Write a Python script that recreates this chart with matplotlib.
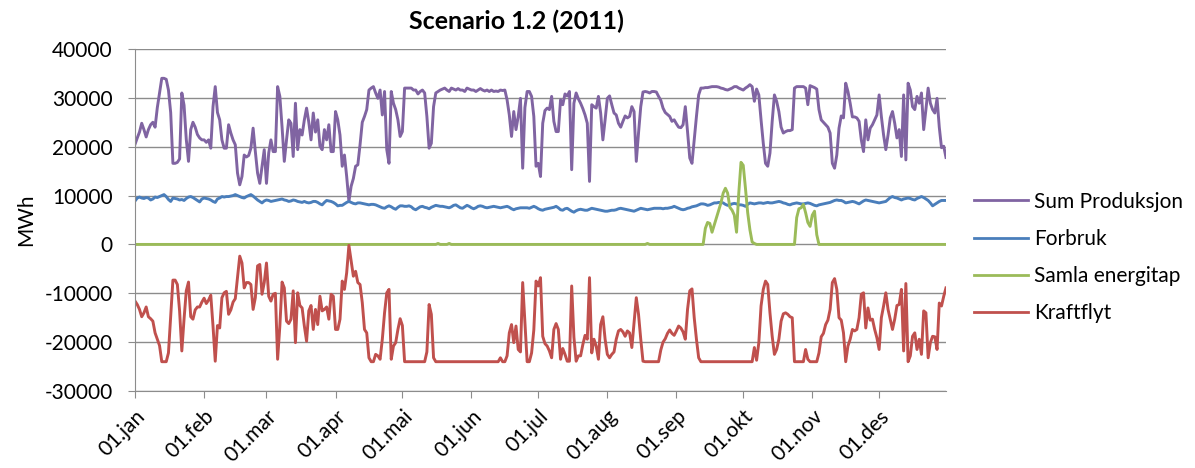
import numpy as np
import matplotlib.pyplot as plt
from matplotlib.lines import Line2D

plt.rcParams['font.family'] = ['Lato', 'DejaVu Sans']
plt.rcParams['axes.unicode_minus'] = False

# Dagsverdiar 2011 (MWh)
sum_produksjon = [
    20500, 21800, 23000, 24800, 23500, 22000, 23500, 24500, 25000, 24000,
    28000, 31000, 34000, 34000, 33800, 31600, 27000, 16600, 16600, 16800,
    17500, 31000, 28500, 21500, 17000, 23500, 25000, 24000, 22500, 21800,
    21400, 21400, 20900, 21400, 19700, 28200, 32300, 27000, 25500, 21400,
    19700, 19700, 24500, 22800, 21400, 20400, 14600, 12200, 13900, 18300,
    17900, 18200, 19700, 23800, 19000, 14600, 12500, 16000, 19400, 12500,
    18700, 21400, 19000, 19000, 32300, 30300, 24000, 17000, 21400, 25500,
    24800, 18000, 28900, 19400, 23500, 22400, 25500, 27900, 25000, 21400,
    26900, 23000, 25500, 20100, 19400, 23500, 21400, 24500, 19000, 19000,
    27200, 25500, 22400, 16000, 18300, 13900, 8800, 11900, 13500, 16000,
    16300, 20400, 25000, 26200, 27600, 31600, 32000, 32300, 31000, 29900,
    31600, 26500, 31300, 19400, 16600, 31300, 28900, 27600, 25500, 22100,
    23100, 32000, 32000, 32000, 32000, 31600, 31600, 30800, 31300, 31600,
    31000, 26200, 19700, 20700, 28200, 31000, 31300, 31600, 31800, 32000,
    31600, 31300, 32000, 31800, 31600, 31900, 31600, 31600, 31300, 32000,
    31800, 31600, 31600, 31300, 31600, 31900, 31600, 31400, 31600, 31300,
    31600, 31300, 31400, 31300, 31600, 31500, 31600, 29600, 26500, 22100,
    27200, 23500, 26200, 29900, 15600, 28000, 31300, 31300, 30300, 26200,
    16000, 16600, 13900, 24800, 27400, 27900, 27600, 30300, 25200, 23100,
    23100, 29600, 28600, 30800, 30400, 31300, 15300, 28900, 31000, 29800,
    28900, 27800, 26500, 24800, 12900, 28600, 28200, 27900, 30300, 26900,
    21400, 25500, 29900, 30400, 28600, 26900, 26500, 24800, 24000, 25200,
    26300, 25900, 26200, 28200, 27200, 17000, 22800, 28200, 31200, 31300,
    31200, 31000, 31300, 31300, 31200, 30300, 29500, 27900, 27000, 26600,
    26200, 25200, 25500, 24700, 24000, 23900, 24500, 28200, 23100, 17700,
    16600, 21400, 26200, 30600, 32000, 32000, 32100, 32100, 32200, 32300,
    32300, 32300, 32200, 32000, 31900, 31700, 31600, 31800, 32000, 32300,
    32300, 32000, 31800, 31600, 32000, 32300, 32700, 32300, 29300, 31800,
    30600, 25500, 20700, 16600, 16000, 18700, 25200, 30600, 29300, 27200,
    24000, 22800, 23100, 23300, 23300, 23500, 32000, 32300, 32300, 32300,
    32300, 32000, 28600, 32500, 32300, 32100, 31800, 27600, 25500, 25000,
    24500, 24000, 22800, 16600, 15600, 18300, 23800, 26300, 25900, 33000,
    31300, 28900, 26100, 26100, 25900, 25200, 21400, 19000, 25500, 21400,
    23800, 24500, 25500, 26500, 30600, 26200, 22400, 19400, 22400, 25900,
    27200, 24800, 21800, 23500, 18000, 30600, 17300, 33000, 31600, 28200,
    27600, 30300, 28900, 31000, 23500, 27600, 32000, 28900, 27600, 26900,
    29900, 24000, 19800, 20100, 17800,
]

forbruk = [
    8900, 9500, 9700, 9500, 9400, 9600, 9500, 9100, 9300, 9700,
    9600, 9800, 10000, 10200, 9800, 9200, 8800, 9500, 9400, 9300,
    9100, 9200, 9000, 9400, 9700, 9800, 9600, 9300, 9000, 8700,
    9300, 9500, 9400, 9300, 9100, 8800, 8600, 9300, 9500, 9800,
    9700, 9800, 9800, 9900, 10000, 10200, 10000, 9800, 9600, 9500,
    9800, 10000, 10200, 9900, 9500, 9100, 8800, 8500, 8900, 9100,
    9000, 8800, 8900, 9000, 9100, 9200, 9300, 9100, 9000, 8800,
    8900, 9100, 9000, 8800, 8700, 8600, 8800, 8600, 8500, 8600,
    8800, 8800, 8600, 8300, 8100, 8600, 9000, 8900, 8800, 8600,
    8300, 7900, 8000, 8000, 8300, 8600, 8800, 8600, 8400, 8300,
    8500, 8500, 8400, 8300, 8200, 8100, 8200, 8200, 8100, 7900,
    7700, 7500, 7400, 7700, 7900, 7700, 7400, 7200, 7600, 7900,
    7900, 7800, 7800, 7900, 7700, 7300, 7100, 7400, 7700, 7800,
    7600, 7500, 7300, 7600, 7800, 8000, 7900, 7800, 7800, 7700,
    7600, 7500, 7700, 8000, 8100, 7800, 7500, 7400, 7700, 8000,
    7800, 7500, 7300, 7500, 7800, 7900, 7800, 7600, 7500, 7600,
    7700, 7800, 7700, 7600, 7500, 7600, 7700, 7800, 7600, 7300,
    7100, 7300, 7400, 7500, 7500, 7500, 7500, 7400, 7600, 7800,
    7600, 7300, 7100, 7000, 7200, 7300, 7400, 7500, 7600, 7800,
    7500, 7100, 7000, 7300, 7400, 7100, 6800, 6600, 6900, 7100,
    7200, 7100, 7000, 7000, 7200, 7400, 7300, 7200, 7100, 7000,
    6900, 6800, 6800, 6900, 7000, 7000, 7100, 7300, 7400, 7300,
    7200, 7100, 7000, 6900, 6800, 7000, 7200, 7400, 7300, 7200,
    7100, 7200, 7300, 7400, 7400, 7400, 7400, 7300, 7400, 7400,
    7500, 7600, 7800, 7600, 7400, 7200, 7100, 7200, 7400, 7500,
    7700, 7800, 7900, 8100, 8300, 8300, 8200, 8000, 8100, 8300,
    8500, 8500, 8600, 8600, 8500, 8200, 8000, 8100, 8300, 8400,
    8300, 8100, 8100, 8000, 7800, 8200, 8500, 8400, 8300, 8400,
    8500, 8500, 8400, 8500, 8600, 8500, 8500, 8600, 8700, 8800,
    8700, 8500, 8400, 8200, 8100, 8300, 8400, 8500, 8400, 8300,
    8300, 8400, 8500, 8400, 8200, 8000, 7900, 8100, 8200, 8300,
    8400, 8500, 8600, 8800, 9000, 9100, 9000, 9000, 8800, 8500,
    8600, 8700, 8800, 8700, 8500, 8300, 8600, 8900, 9100, 9000,
    8900, 8800, 8700, 8600, 8500, 8600, 8700, 8800, 9200, 9600,
    9800, 9600, 9500, 9300, 9100, 9300, 9400, 9500, 9400, 9200,
    9100, 9400, 9600, 9800, 9600, 9300, 9000, 8500, 7900, 8200,
    8500, 8800, 9000, 9000, 9000,
]

samla_energitap = (
    [0] * 136 + [200] + [0] * 4 + [200] + [0] * 88 + [200] + [0] * 25
    + [3300, 4500, 4300, 2500, 4000, 5500, 7000, 8500, 10500, 11500,
       10500, 7600, 7000, 6000, 2500, 10500, 16800, 16200, 11500, 6500,
       3000, 500, 200]
    + [0] * 18
    + [5500, 7300, 7500, 8200, 6500, 4500, 3700, 6000, 6800, 2000]
    + [0] * 58
)

kraftflyt = [
    -11600, -12300, -13300, -14800, -14000, -12800, -14800, -15200, -15700, -18100,
    -19400, -20700, -24000, -24000, -24000, -22200, -14700, -7300, -7300, -8200,
    -13600, -21800, -15300, -9500, -7700, -14800, -15300, -13400, -12800, -12800,
    -11800, -11000, -12100, -11400, -10400, -16700, -23900, -16600, -17100, -10900,
    -9900, -9600, -14300, -13400, -11800, -11100, -6800, -2400, -3800, -8900,
    -7800, -7800, -8200, -13300, -10900, -4400, -4100, -10200, -7800, -3800,
    -10600, -11600, -10200, -10000, -23500, -16700, -7700, -8900, -15700, -16200,
    -15300, -9500, -20100, -9900, -12500, -13000, -16700, -19800, -13600, -12500,
    -17400, -13300, -16400, -10600, -13600, -13300, -12800, -15300, -10200, -10600,
    -17400, -17400, -15300, -7500, -9200, -5800, -200, -3400, -6500, -5500,
    -7800, -8200, -11900, -17400, -18100, -23200, -24000, -24000, -22500, -22800,
    -23500, -19400, -14000, -9900, -9200, -23500, -20800, -20100, -17400, -15200,
    -16600, -24000, -24000, -24000, -24000, -24000, -24000, -24000, -24000, -24000,
    -24000, -22000, -12300, -14300, -23200, -24000, -24000, -24000, -24000, -24000,
] + [-24000] * 24 + [
    -23200, -24000, -24000, -22800, -18100, -16400,
    -20100, -16700, -21500, -22000, -7800, -16000, -24000, -24000, -22200, -17500,
    -7500, -8500, -6800, -18800, -20300, -20800, -21800, -23200, -17400, -16200,
    -17400, -23500, -21300, -22500, -23900, -23900, -8500, -19000, -23900, -22800,
    -22800, -20500, -18600, -19400, -6800, -22200, -19400, -20800, -23500, -16400,
    -14800, -19400, -22500, -23200, -22500, -22000, -19400, -17700, -17400, -17900,
    -18800, -17700, -18100, -21100, -16000, -10900, -14300, -19400, -23900, -24000,
    -24000, -24000, -24000, -24000, -24000, -24000, -21600, -20000, -19300, -18200,
    -17500, -18200, -18600, -17700, -16700, -17100, -17900, -19400, -13300, -9500,
    -9100, -15000, -19400, -23200,
] + [-24000] * 24 + [
    -21100, -23700,
    -20100, -12600, -9200, -7500, -8200, -14000, -18800, -22500, -21500, -19400,
    -15700, -14200, -14000, -14300, -14800, -15000, -24000, -24000, -24000, -24000,
    -24000, -21500, -23500, -24000, -24000, -24000, -24000, -22200, -18900, -18200,
    -16400, -15500, -13300, -7800, -7000, -9200, -15000, -15500, -18100, -24000,
    -20800, -19400, -17400, -17700, -17400, -15000, -10200, -9900, -17100, -13000,
    -15500, -15300, -17400, -19100, -21500, -15000, -12600, -9900, -13300, -15300,
    -17400, -15300, -12500, -12300, -9200, -21800, -8000, -24000, -22800, -18800,
    -18100, -21500, -19400, -22500, -13600, -14000, -23200, -20100, -18800, -18900,
    -21500, -12000, -12600, -10600, -8900,
]

maanad_dag = [0, 31, 59, 90, 120, 151, 181, 212, 243, 273, 304, 334]
maanad_namn = ['01.jan', '01.feb', '01.mar', '01.apr', '01.mai', '01.jun',
               '01.jul', '01.aug', '01.sep', '01.okt', '01.nov', '01.des']

serie_namn = ['Sum Produksjon', 'Forbruk', 'Samla energitap', 'Kraftflyt']
fargar = ['#8064A2', '#4A7EBB', '#9BBB59', '#C0504D']

dag = np.arange(len(sum_produksjon))

fig = plt.figure(figsize=(11.95, 4.68), dpi=100)
ax = fig.add_axes([0.113, 0.1645, 0.6786, 0.7308])

serier = [sum_produksjon, forbruk, samla_energitap, kraftflyt]
for verdi, farge in zip(serier, fargar):
    ax.plot(dag, verdi, color=farge, lw=2.1, solid_joinstyle='round')

ax.set_xlim(0, 364)
ax.set_ylim(-30000, 40000)
ax.set_yticks(np.arange(-30000, 40001, 10000))
ax.set_xticks(maanad_dag)
ax.set_xticklabels(maanad_namn, rotation=45, ha='right', rotation_mode='anchor')
ax.grid(axis='y', color='#8C8C8C', lw=1.0)
ax.set_axisbelow(True)

for s in ['top', 'right']:
    ax.spines[s].set_visible(False)
for s in ['left', 'bottom']:
    ax.spines[s].set_color('#8C8C8C')
ax.tick_params(axis='both', colors='#8C8C8C', length=5, labelcolor='#000000',
               labelsize=15)
ax.tick_params(axis='x', pad=6)
ax.tick_params(axis='y', pad=11)

ax.set_ylabel('MWh', fontsize=15, labelpad=6)
fig.text(0.432, 0.955, 'Scenario 1.2 (2011)', ha='center', va='center',
         fontsize=18, fontweight='bold')

handles = [Line2D([], [], color=c, lw=2.0) for c in fargar]
fig.legend(handles, serie_namn, loc='center left',
           bbox_to_anchor=(0.799, 0.45), frameon=False, fontsize=15,
           handlelength=2.6, handletextpad=0.3, labelspacing=0.82)

fig.savefig('out.png', dpi=100)
